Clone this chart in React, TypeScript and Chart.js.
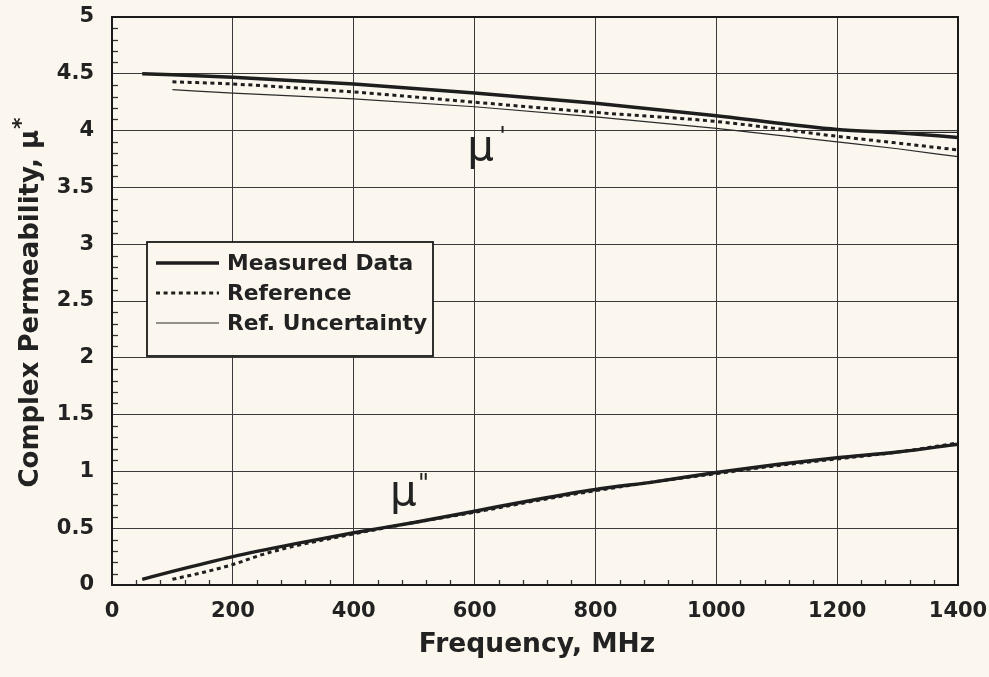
import React, { useEffect, useRef } from "react";
import { Chart, registerables } from "chart.js";

Chart.register(...registerables);

// ---- data ----
const muPrimeMeasuredFreq = [50, 200, 400, 600, 800, 1000, 1200, 1300, 1400];
const muPrimeMeasured = [4.5, 4.47, 4.41, 4.33, 4.24, 4.13, 4.01, 3.98, 3.94];

const muPrimeRefFreq = [100, 200, 400, 600, 800, 1000, 1200, 1300, 1400];
const muPrimeRef = [4.43, 4.41, 4.34, 4.25, 4.16, 4.08, 3.95, 3.89, 3.83];
const muPrimeRefLower = [4.36, 4.33, 4.28, 4.21, 4.12, 4.02, 3.9, 3.84, 3.77];
const muPrimeRefUpper = [4.49, 4.47, 4.41, 4.33, 4.24, 4.13, 4.01, 3.985, 3.985];

const muDoubleMeasuredFreq = [50, 100, 200, 300, 400, 500, 600, 700, 800, 900, 1000, 1100, 1200, 1300, 1400];
const muDoubleMeasured = [0.05, 0.12, 0.25, 0.36, 0.46, 0.55, 0.65, 0.75, 0.84, 0.91, 0.99, 1.06, 1.12, 1.17, 1.24];

const muDoubleRefFreq = [100, 150, 200, 250, 300, 400, 500, 600, 700, 800, 900, 1000, 1100, 1200, 1300, 1400];
const muDoubleRef = [0.05, 0.11, 0.18, 0.27, 0.34, 0.45, 0.55, 0.64, 0.74, 0.83, 0.91, 0.98, 1.05, 1.11, 1.17, 1.25];

const xTickStep = 200;
const yTickStep = 0.5;
const legendLabels = ["Measured Data", "Reference", "Ref. Uncertainty"];
const xTitle = "Frequency, MHz";
const yTitle = "Complex Permeability, \u03bc";

const BG = "#fbf7ee";
const INK = "#222222";
const FONT = "'DejaVu Sans'";

const pts = (xs: number[], ys: number[]) => xs.map((x, i) => ({ x, y: ys[i] }));

const measuredStyle = { borderColor: "#1e1e1e", borderWidth: 3.5, borderDash: [] as number[] };
const refStyle = { borderColor: "#1e1e1e", borderWidth: 3, borderDash: [4, 3.6] };
const uncStyle = { borderColor: "#2a2a2a", borderWidth: 1.2, borderDash: [] as number[] };

const decorPlugin = {
  id: "decor",
  beforeDraw(chart: any) {
    const ctx = chart.ctx;
    ctx.save();
    ctx.fillStyle = BG;
    ctx.fillRect(0, 0, chart.width, chart.height);
    ctx.restore();
  },
  beforeDatasetsDraw(chart: any) {
    const { ctx, chartArea: a, scales } = chart;
    const xs = scales.x;
    const ys = scales.y;
    ctx.save();
    ctx.strokeStyle = "#333";
    ctx.lineWidth = 1.3;
    for (let i = 1; i < 50; i++) {
      if (i % 5 === 0) continue;
      const py = Math.round(ys.getPixelForValue(i / 10)) + 0.5;
      ctx.beginPath();
      ctx.moveTo(a.left, py);
      ctx.lineTo(a.left + 6, py);
      ctx.stroke();
    }
    for (let v = 40; v < 1400; v += 40) {
      if (v % 200 === 0) continue;
      const px = Math.round(xs.getPixelForValue(v)) + 0.5;
      ctx.beginPath();
      ctx.moveTo(px, a.bottom);
      ctx.lineTo(px, a.bottom - 5);
      ctx.stroke();
    }
    ctx.restore();
  },
  afterDraw(chart: any) {
    const { ctx, chartArea: a, scales } = chart;
    const xs = scales.x;
    const ys = scales.y;
    ctx.save();
    ctx.strokeStyle = "#1a1a1a";
    ctx.lineWidth = 2;
    ctx.strokeRect(a.left, a.top, a.right - a.left, a.bottom - a.top);

    ctx.fillStyle = INK;
    ctx.font = `bold 26.5px ${FONT}`;
    ctx.textAlign = "center";
    ctx.textBaseline = "middle";
    ctx.fillText(xTitle, (a.left + a.right) / 2 + 2, 645);

    ctx.save();
    ctx.translate(31, 303);
    ctx.rotate(-Math.PI / 2);
    ctx.font = `bold 26px ${FONT}`;
    const w1 = ctx.measureText(yTitle).width;
    ctx.font = `bold 22px ${FONT}`;
    const w2 = ctx.measureText("*").width;
    const total = w1 + w2;
    ctx.textAlign = "left";
    ctx.font = `bold 26px ${FONT}`;
    ctx.fillText(yTitle, -total / 2, 0);
    ctx.font = `bold 22px ${FONT}`;
    ctx.fillText("*", -total / 2 + w1 + 1, -9);
    ctx.restore();

    ctx.textAlign = "left";
    ctx.textBaseline = "alphabetic";
    ctx.font = `42px ${FONT}`;
    const m1x = xs.getPixelForValue(588);
    const m1y = ys.getPixelForValue(3.74);
    ctx.fillText("\u03bc", m1x, m1y);
    ctx.font = `24px ${FONT}`;
    ctx.fillText("'", m1x + 32, m1y - 16);

    ctx.font = `42px ${FONT}`;
    const m2x = xs.getPixelForValue(460);
    const m2y = ys.getPixelForValue(0.7);
    ctx.fillText("\u03bc", m2x, m2y);
    ctx.font = `24px ${FONT}`;
    ctx.fillText("\"", m2x + 28, m2y - 14);

    const lx = 147, ly = 242, lw = 286, lh = 114;
    ctx.fillStyle = BG;
    ctx.fillRect(lx, ly, lw, lh);
    ctx.strokeStyle = "#1a1a1a";
    ctx.lineWidth = 1.8;
    ctx.strokeRect(lx, ly, lw, lh);
    const styles = [measuredStyle, refStyle, uncStyle];
    const rows = [263, 293, 323];
    for (let i = 0; i < 3; i++) {
      const s = styles[i];
      ctx.strokeStyle = s.borderColor;
      ctx.lineWidth = s.borderWidth;
      ctx.setLineDash(s.borderDash);
      ctx.beginPath();
      ctx.moveTo(156, rows[i]);
      ctx.lineTo(219, rows[i]);
      ctx.stroke();
      ctx.setLineDash([]);
      ctx.fillStyle = INK;
      ctx.font = `bold 21.8px ${FONT}`;
      ctx.textBaseline = "middle";
      ctx.fillText(legendLabels[i], 227, rows[i] + 1);
    }
    ctx.restore();
  },
};

export default function App() {
  const ref = useRef<HTMLCanvasElement | null>(null);
  useEffect(() => {
    document.body.style.margin = "0";
    document.body.style.background = BG;
    const canvas = ref.current!;
    const common = { fill: false, pointRadius: 0, tension: 0.3, cubicInterpolationMode: "monotone" as const };
    const chart = new Chart(canvas, {
      type: "line",
      data: {
        datasets: [
          { label: "Ref. Uncertainty upper", data: pts(muPrimeRefFreq, muPrimeRefUpper), ...uncStyle, ...common, order: 5 },
          { label: "Ref. Uncertainty lower", data: pts(muPrimeRefFreq, muPrimeRefLower), ...uncStyle, ...common, order: 5 },
          { label: "Reference mu'", data: pts(muPrimeRefFreq, muPrimeRef), ...refStyle, ...common, order: 3 },
          { label: "Reference mu''", data: pts(muDoubleRefFreq, muDoubleRef), ...refStyle, ...common, order: 3 },
          { label: "Measured mu'", data: pts(muPrimeMeasuredFreq, muPrimeMeasured), ...measuredStyle, ...common, order: 1 },
          { label: "Measured mu''", data: pts(muDoubleMeasuredFreq, muDoubleMeasured), ...measuredStyle, ...common, order: 1 },
        ],
      },
      options: {
        animation: false,
        responsive: false,
        layout: { padding: { top: 17, right: 31, left: 0, bottom: 0 } },
        plugins: { legend: { display: false }, tooltip: { enabled: false } },
        scales: {
          x: {
            type: "linear",
            min: 0,
            max: 1400,
            ticks: {
              stepSize: xTickStep,
              color: INK,
              padding: 14,
              maxRotation: 0,
              font: { family: FONT, weight: "bold", size: 21 },
              callback: (v: any) => String(v),
            },
            grid: { color: "#3a3a3a", lineWidth: 1, drawTicks: false },
            border: { display: false },
            afterFit: (s: any) => { s.height = 92; s.paddingLeft = 0; s.paddingRight = 0; },
          },
          y: {
            type: "linear",
            min: 0,
            max: 5,
            ticks: {
              stepSize: yTickStep,
              color: INK,
              padding: 18,
              font: { family: FONT, weight: "bold", size: 21 },
              callback: (v: any) => String(Math.round(Number(v) * 10) / 10),
            },
            grid: { color: "#3a3a3a", lineWidth: 1, drawTicks: false },
            border: { display: false },
            afterFit: (s: any) => { s.width = 112; s.paddingTop = 0; s.paddingBottom = 0; },
          },
        },
      } as any,
      plugins: [decorPlugin],
    });
    return () => chart.destroy();
  }, []);
  return <canvas ref={ref} width={989} height={677} style={{ display: "block" }} />;
}
